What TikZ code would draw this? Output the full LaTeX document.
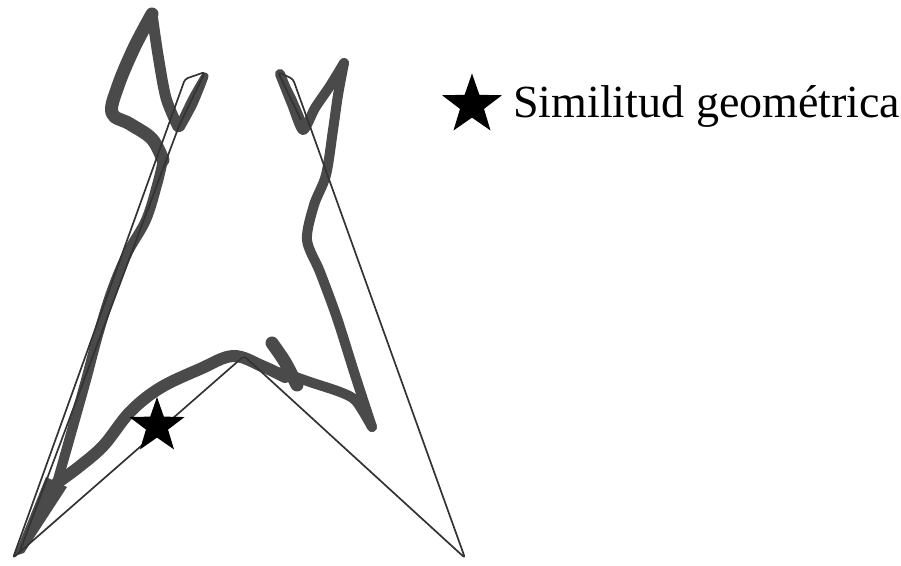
\documentclass[tikz,border=0pt]{standalone}
\usepackage{fontspec}
\setmainfont{Liberation Serif}
\usetikzlibrary{shapes.geometric}
\definecolor{grayink}{HTML}{4A4A4A}
\definecolor{thinink}{HTML}{333333}
\begin{document}
\begin{tikzpicture}[x=1pt,y=-1pt,
  graystroke/.style={draw=grayink, line width=10pt, line cap=round, line join=round},
  thinstroke/.style={draw=thinink, line width=1.7pt, line join=round, rounded corners=3pt},
  starmark/.style={star, star points=5, star point ratio=2.5, fill=black, draw=none, inner sep=0pt}]
\useasboundingbox (0,0) rectangle (901,565);

% gray hand-drawn outline
\draw[graystroke, line width=13pt] plot[smooth, tension=0.6] coordinates
  {(163,160) (152,139) (130,124) (112,113) (118,86) (134,48) (152,14)};
\draw[graystroke, line width=11pt] plot[smooth, tension=0.5] coordinates
  {(152,14) (158,55) (166,98) (178,127)};
\draw[graystroke, line width=7pt] plot[smooth, tension=0.4] coordinates
  {(178,127) (192,98) (205,76) (194,104) (181,128)};
\draw[graystroke, line width=10pt] plot[smooth, tension=0.6] coordinates
  {(163,160) (157,185) (146,220) (128,252) (112,290) (98,335) (86,380) (72,430) (57,483)};
\fill[grayink, line join=round] (14,556) -- (46,477) -- (67,487) -- (24,553) -- cycle;
\draw[graystroke, line width=12pt] plot[smooth, tension=0.6] coordinates
  {(57,483) (80,466) (104,445) (130,412) (160,388) (200,369) (233,356) (262,366) (285,377)};
\draw[graystroke, line width=13pt] plot[smooth, tension=0.5] coordinates
  {(272,343) (285,362) (297,385)};
\draw[graystroke, line width=10pt] plot[smooth, tension=0.5] coordinates
  {(282,372) (310,382) (340,392) (356,401) (372,427)};
\draw[graystroke, line width=10pt] plot[smooth, tension=0.5] coordinates
  {(372,427) (355,375) (337,318) (320,272) (307,240) (314,205) (326,175) (333,130) (338,95) (344,63)};
\draw[graystroke, line width=10pt] plot[smooth, tension=0.4] coordinates
  {(344,63) (330,86) (315,108) (303,130) (292,104) (280,74)};
\draw[graystroke, line width=6pt] plot[smooth, tension=0.4] coordinates
  {(280,74) (292,96) (304,124)};

% thin reference polygon
\coordinate (K) at (301,120);
\coordinate (J) at (278,72);
\coordinate (I) at (293,79);
\coordinate (H) at (465,558);
\coordinate (apex) at (244,356);
\coordinate (A) at (13,558);
\coordinate (B) at (185,79);
\coordinate (C) at (205,72);
\coordinate (D) at (179,126);
\coordinate (E) at (20,551);
\draw[thinstroke] (K) -- (J) -- (I) -- (H) -- (apex) -- (A) -- (B) -- (C) -- (D) -- (E);

% stars
\node[starmark, minimum size=58pt] (mapstar) at (157,426) {};
\node[starmark, minimum size=63pt] (legstar) at (472,105) {};

% legend text
\node[anchor=base west, inner sep=0pt, font=\fontsize{46}{46}\selectfont] (legtext) at (513,117) {Similitud geométrica};
\end{tikzpicture}
\end{document}
